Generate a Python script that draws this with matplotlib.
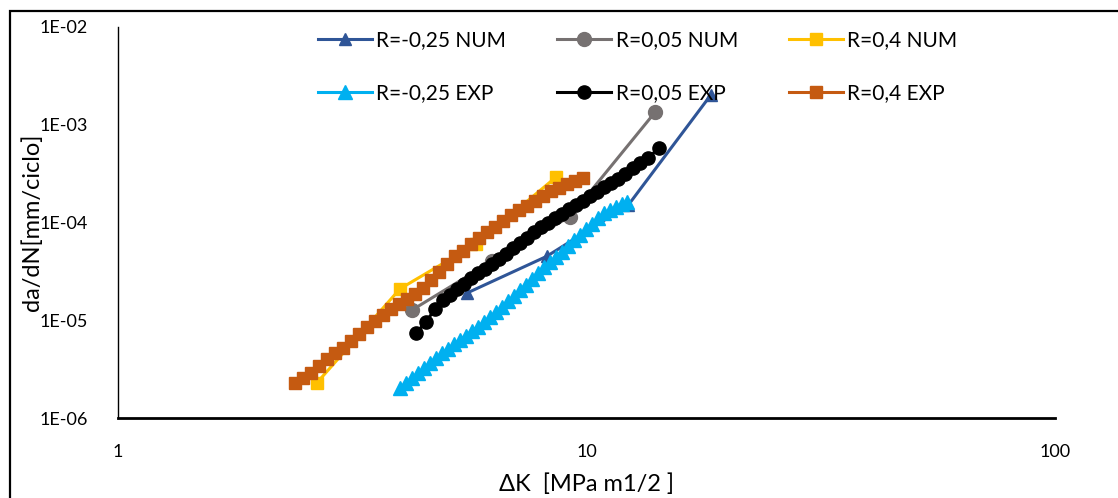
import matplotlib
matplotlib.use('Agg')
import matplotlib.pyplot as plt
from matplotlib.patches import Rectangle

plt.rcParams['font.family'] = ['Lato', 'DejaVu Sans']

# numerical results (few points)
num_m025_dk = [5.56, 8.22, 12.27, 18.4]
num_m025_da = [1.9e-5, 4.5e-5, 1.5e-4, 2.0e-3]
num_005_dk = [4.24, 6.28, 9.22, 14.0]
num_005_da = [1.27e-5, 4.0e-5, 1.15e-4, 1.34e-3]
num_04_dk = [2.66, 4.0, 5.8, 8.6]
num_04_da = [2.3e-6, 2.1e-5, 6.0e-5, 2.9e-4]

exp_m025_dk = [4.00, 4.12, 4.24, 4.37, 4.50, 4.63, 4.77, 4.92, 5.06, 5.21,
               5.37, 5.53, 5.70, 5.87, 6.04, 6.22, 6.41, 6.60, 6.80, 7.00,
               7.21, 7.43, 7.65, 7.88, 8.12, 8.36, 8.61, 8.87, 9.13, 9.40,
               9.68, 9.97, 10.27, 10.58, 10.90, 11.22, 11.56, 11.90, 12.20]
exp_m025_da = [2.03e-6, 2.28e-6, 2.57e-6, 2.89e-6, 3.25e-6, 3.65e-6, 4.11e-6, 4.57e-6, 5.08e-6, 5.65e-6,
               6.28e-6, 6.98e-6, 7.76e-6, 8.63e-6, 9.60e-6, 1.08e-5, 1.21e-5, 1.37e-5, 1.56e-5, 1.77e-5,
               2.04e-5, 2.32e-5, 2.64e-5, 3.04e-5, 3.47e-5, 3.94e-5, 4.44e-5, 5.05e-5, 5.75e-5, 6.55e-5,
               7.45e-5, 8.48e-5, 9.66e-5, 1.10e-4, 1.25e-4, 1.34e-4, 1.44e-4, 1.55e-4, 1.62e-4]

exp_005_dk = [4.33, 4.54, 4.75, 4.94, 5.11, 5.29, 5.48, 5.67, 5.87, 6.07,
              6.28, 6.51, 6.73, 6.97, 7.21, 7.46, 7.73, 8.00, 8.28, 8.57,
              8.87, 9.18, 9.50, 9.83, 10.17, 10.53, 10.90, 11.28, 11.67, 12.08,
              12.57, 13.01, 13.53, 14.28]
exp_005_da = [7.41e-6, 9.60e-6, 1.30e-5, 1.61e-5, 1.83e-5, 2.09e-5, 2.37e-5, 2.69e-5, 3.01e-5, 3.38e-5,
              3.80e-5, 4.26e-5, 4.80e-5, 5.43e-5, 6.17e-5, 7.01e-5, 7.94e-5, 8.91e-5, 9.91e-5, 1.10e-4,
              1.22e-4, 1.36e-4, 1.50e-4, 1.67e-4, 1.86e-4, 2.06e-4, 2.29e-4, 2.52e-4, 2.77e-4, 3.12e-4,
              3.61e-4, 4.02e-4, 4.57e-4, 5.78e-4]

exp_04_dk = [2.39, 2.48, 2.58, 2.69, 2.79, 2.91, 3.02, 3.14, 3.27, 3.40,
             3.54, 3.68, 3.83, 3.98, 4.14, 4.30, 4.48, 4.66, 4.84, 5.04,
             5.24, 5.45, 5.67, 5.90, 6.13, 6.38, 6.63, 6.90, 7.18, 7.46,
             7.77, 8.07, 8.40, 8.74, 9.09, 9.45, 9.83]
exp_04_da = [2.28e-6, 2.57e-6, 2.92e-6, 3.40e-6, 4.01e-6, 4.62e-6, 5.26e-6, 6.13e-6, 7.15e-6, 8.63e-6,
             9.82e-6, 1.12e-5, 1.29e-5, 1.47e-5, 1.65e-5, 1.86e-5, 2.14e-5, 2.58e-5, 3.12e-5, 3.76e-5,
             4.49e-5, 5.17e-5, 5.96e-5, 6.94e-5, 8.00e-5, 9.10e-5, 1.04e-4, 1.18e-4, 1.33e-4, 1.47e-4,
             1.64e-4, 1.87e-4, 2.10e-4, 2.25e-4, 2.45e-4, 2.66e-4, 2.85e-4]

yticks = [1e-6, 1e-5, 1e-4, 1e-3, 1e-2]
ytick_labels = ['1E-06', '1E-05', '1E-04', '1E-03', '1E-02']
xticks = [1, 10, 100]
xtick_labels = ['1', '10', '100']

fig = plt.figure(figsize=(11.18, 4.98), dpi=100)
ax = fig.add_axes([118/1118, 1 - 418/498, (1055 - 118)/1118, (418 - 27)/498])

# outer frame of the picture
fig.patches.append(Rectangle((10/1118, -0.2), 1.5, 1.2 - 11/498, transform=fig.transFigure,
                             fill=False, edgecolor='black', linewidth=1.6, clip_on=False))

h1, = ax.plot(num_m025_dk, num_m025_da, color='#2F5597', lw=2.2, marker='^', ms=9, label='R=-0,25 NUM')
h2, = ax.plot(num_005_dk, num_005_da, color='#767171', lw=2.2, marker='o', ms=10, label='R=0,05 NUM')
h3, = ax.plot(num_04_dk, num_04_da, color='#FFC000', lw=2.2, marker='s', ms=8.5, label='R=0,4 NUM')
h4, = ax.plot(exp_m025_dk, exp_m025_da, color='#00B0F0', lw=2.2, marker='^', ms=9.5, label='R=-0,25 EXP')
h5, = ax.plot(exp_005_dk, exp_005_da, color='black', lw=2.2, marker='o', ms=9.5, label='R=0,05 EXP')
h6, = ax.plot(exp_04_dk, exp_04_da, color='#C55A11', lw=2.2, marker='s', ms=9, label='R=0,4 EXP')

ax.set_xscale('log')
ax.set_yscale('log')
ax.set_xlim(1, 100)
ax.set_ylim(1e-6, 1e-2)
ax.set_xticks(xticks, labels=xtick_labels)
ax.set_yticks(yticks, labels=ytick_labels)
ax.minorticks_off()
ax.tick_params(length=0, labelsize=13)
ax.tick_params(axis='y', pad=22)
ax.tick_params(axis='x', pad=19)

for s in ['top', 'right']:
    ax.spines[s].set_visible(False)
ax.spines['left'].set_linewidth(1.0)
ax.spines['bottom'].set_linewidth(2.0)

ax.set_ylabel('da/dN[mm/ciclo]', fontsize=17)
ax.yaxis.set_label_coords(-0.080, 0.5)
ax.set_xlabel('ΔK  [MPa m1/2 ]', fontsize=17)
ax.xaxis.set_label_coords(0.5, -0.142)

ax.legend(handles=[h1, h4, h2, h5, h3, h6], ncol=3, frameon=False, fontsize=15,
          loc='upper left', bbox_to_anchor=(318/1118, 1 - 30/498), bbox_transform=fig.transFigure,
          borderpad=0, borderaxespad=0, handlelength=2.6, handletextpad=0.2,
          columnspacing=2.45, labelspacing=1.6, markerscale=1.0)

fig.savefig('out.png', dpi=100)
